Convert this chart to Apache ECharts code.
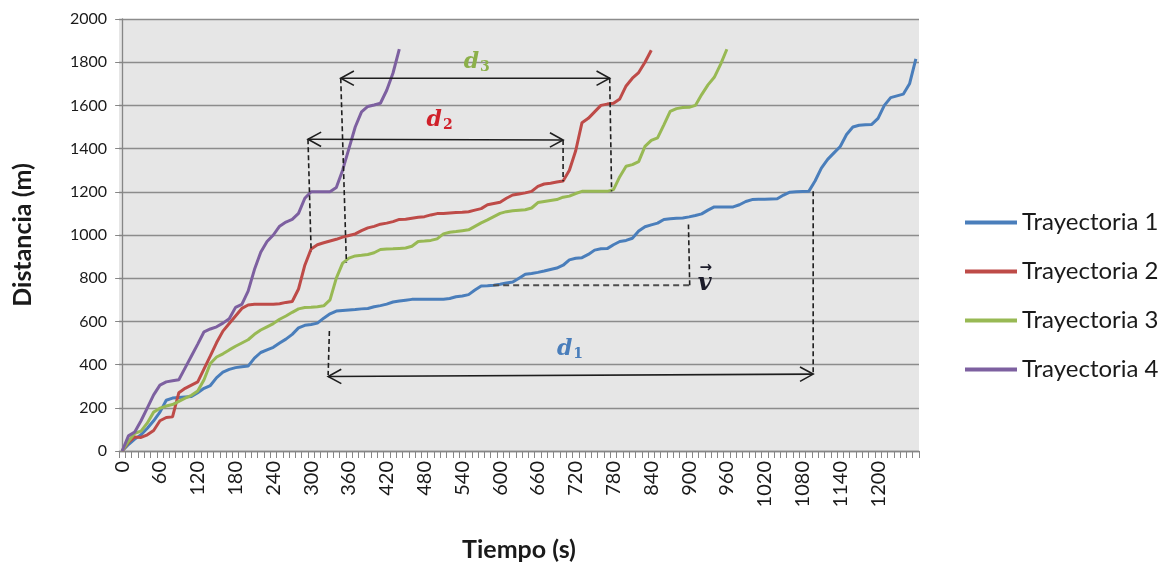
<!DOCTYPE html>
<html>
<head>
<meta charset="utf-8">
<script src="https://cdn.jsdelivr.net/npm/echarts@6/dist/echarts.min.js"></script>
<style>
  html, body { margin: 0; padding: 0; background: #ffffff; }
  #chart { width: 1171px; height: 567px; }
</style>
</head>
<body>
<div id="chart"></div>
<script>
// Time samples every 10 s (0 … 1260 s)
const tiempos = [];
for (let t = 0; t <= 1260; t += 10) tiempos.push(String(t));

// Distance (m) sampled every 10 s for each trajectory
const trayectoria1 = [
  0, 30, 55, 75, 105, 140, 180, 235, 245, 248, 250, 252, 270, 290, 303, 340, 365, 378, 386, 390,
  393, 430, 456, 468, 480, 500, 518, 540, 570, 582, 586, 592, 615, 635, 648, 651, 653, 655, 658, 660,
  668, 673, 680, 690, 694, 698, 702, 702, 702, 702, 702, 703, 706, 714, 718, 724, 745, 764, 765, 767,
  772, 778, 782, 800, 818, 822, 827, 833, 840, 847, 860, 885, 892, 895, 910, 930, 936, 937, 955, 970,
  975, 985, 1018, 1038, 1047, 1055, 1072, 1075, 1077, 1079, 1084, 1090, 1098, 1115, 1130, 1130, 1130, 1130, 1140, 1155,
  1164, 1165, 1166, 1167, 1168, 1185, 1198, 1200, 1201, 1202, 1250, 1310, 1350, 1380, 1410, 1465, 1500, 1508, 1510, 1512,
  1540, 1600, 1636, 1644, 1652, 1700, 1815
];
const trayectoria2 = [
  0, 40, 65, 63, 75, 95, 140, 155, 158, 270, 290, 305, 320, 380, 440, 502, 555, 590, 625, 660,
  676, 679, 679, 679, 679, 682, 688, 692, 750, 860, 935, 955, 964, 972, 980, 990, 998, 1005, 1020, 1033,
  1040, 1050, 1055, 1062, 1072, 1073, 1078, 1082, 1085, 1093, 1099, 1100, 1102, 1104, 1105, 1108, 1115, 1122, 1140, 1146,
  1152, 1170, 1185, 1190, 1195, 1202, 1225, 1236, 1240, 1245, 1250, 1300, 1390, 1520, 1540, 1570, 1600, 1606, 1610, 1630,
  1690, 1726, 1752, 1800, 1855
];
const trayectoria3 = [
  0, 45, 82, 92, 130, 180, 198, 208, 215, 230, 245, 258, 278, 330, 405, 435, 450, 468, 485, 500,
  515, 540, 560, 575, 590, 610, 625, 642, 658, 664, 665, 668, 672, 700, 800, 870, 893, 903, 906, 910,
  918, 933, 935, 936, 938, 940, 948, 970, 972, 975, 982, 1005, 1013, 1016, 1020, 1024, 1040, 1056, 1070, 1085,
  1100, 1108, 1112, 1115, 1117, 1125, 1150, 1155, 1160, 1164, 1175, 1180, 1192, 1202, 1202, 1202, 1202, 1202, 1210, 1270,
  1318, 1326, 1340, 1410, 1438, 1450, 1510, 1572, 1585, 1590, 1591, 1600, 1650, 1695, 1730, 1790, 1860
];
const trayectoria4 = [
  0, 70, 88, 140, 200, 260, 305, 320, 325, 330, 385, 440, 495, 552, 565, 575, 592, 612, 665, 679,
  740, 840, 920, 970, 1000, 1041, 1060, 1072, 1100, 1170, 1200, 1200, 1200, 1200, 1220, 1300, 1400, 1500, 1570, 1595,
  1602, 1610, 1670, 1750, 1860
];

const nombres = ['Trayectoria 1', 'Trayectoria 2', 'Trayectoria 3', 'Trayectoria 4'];
const colores = ['#4a7ebb', '#be4b48', '#98b954', '#7d60a0'];
const series = [trayectoria1, trayectoria2, trayectoria3, trayectoria4];

// Distance arrows [t1, d1, t2, d2] (double-headed)
const flechas = [
  [327, 345, 1097, 356],
  [295, 1443, 700, 1440],
  [347, 1726, 774, 1726]
];
// Vertical dashed guides [t1, d1, t2, d2]
const guias = [
  [329, 556, 327, 352],
  [1097, 1202, 1097, 356],
  [295, 1443, 300, 924],
  [700, 1440, 700, 1249],
  [347, 1726, 356, 872],
  [774, 1726, 777, 1202],
  [901, 767, 899, 1049]
];
// Horizontal dashed guide for the velocity vector
const guiaVelocidad = [[589, 767, 901, 767]];
// Math labels [t, d, subscript, colour]
const etiquetas = [
  [711, 471, '1', '#4a7ebb'],
  [504, 1533, '2', '#d0202a'],
  [563, 1801, '3', '#8cb04a']
];
const etiquetaV = [[925, 785]];

const chart = echarts.init(document.getElementById('chart'), null, { renderer: 'canvas' });

function arrowItem(params, api) {
  const p1 = api.coord([api.value(0), api.value(1)]);
  const p2 = api.coord([api.value(2), api.value(3)]);
  const ang = Math.atan2(p2[1] - p1[1], p2[0] - p1[0]);
  const L = 15, W = 0.5;
  const head = (p, dir) => {
    const a = ang + (dir > 0 ? 0 : Math.PI);
    return [
      [p[0] - L * Math.cos(a - W), p[1] - L * Math.sin(a - W)],
      p,
      [p[0] - L * Math.cos(a + W), p[1] - L * Math.sin(a + W)]
    ];
  };
  const st = { stroke: '#1e1e1e', lineWidth: 1.6, fill: null };
  return {
    type: 'group',
    children: [
      { type: 'line', shape: { x1: p1[0], y1: p1[1], x2: p2[0], y2: p2[1] }, style: st },
      { type: 'polyline', shape: { points: head(p2, 1) }, style: st },
      { type: 'polyline', shape: { points: head(p1, -1) }, style: st }
    ]
  };
}

function dashedItem(color, width, dash) {
  return function (params, api) {
    const p1 = api.coord([api.value(0), api.value(1)]);
    const p2 = api.coord([api.value(2), api.value(3)]);
    return {
      type: 'line',
      shape: { x1: p1[0], y1: p1[1], x2: p2[0], y2: p2[1] },
      style: { stroke: color, lineWidth: width, lineDash: dash }
    };
  };
}

function labelItem(params, api) {
  const p = api.coord([api.value(0), api.value(1)]);
  const d = etiquetas[params.dataIndex];
  return {
    type: 'text',
    x: p[0], y: p[1],
    style: {
      text: '{d|d}{s|' + d[2] + '}',
      align: 'center', verticalAlign: 'middle',
      rich: {
        d: { fontFamily: 'DejaVu Serif', fontStyle: 'italic', fontWeight: 'bold', fontSize: 22, fill: d[3], color: d[3] },
        s: { fontFamily: 'DejaVu Serif', fontWeight: 'bold', fontSize: 14, fill: d[3], color: d[3], padding: [10, 0, 0, 1] }
      }
    }
  };
}

function velItem(params, api) {
  const p = api.coord([api.value(0), api.value(1)]);
  return {
    type: 'group',
    children: [
      { type: 'text', x: p[0], y: p[1] + 2, style: { text: 'v', align: 'center', verticalAlign: 'middle',
        font: 'italic bold 24px "DejaVu Serif"', fill: '#1c1c2a' } },
      { type: 'text', x: p[0] + 1, y: p[1] - 13, style: { text: '\u2192', align: 'center', verticalAlign: 'middle',
        font: 'bold 15px "DejaVu Sans"', fill: '#1c1c2a' } }
    ]
  };
}

const lineSeries = series.map((vals, i) => ({
  name: nombres[i],
  type: 'line',
  xAxisIndex: 0,
  data: vals,
  symbol: 'none',
  lineStyle: { width: 3, color: colores[i] },
  itemStyle: { color: colores[i] },
  z: 3
}));

const overlay = [
  { type: 'custom', xAxisIndex: 1, renderItem: dashedItem('#1e1e1e', 1.6, [5, 3]), data: guias, z: 5, silent: true,
    encode: { x: [0, 2], y: [1, 3] } },
  { type: 'custom', xAxisIndex: 1, renderItem: dashedItem('#4d4d4d', 2, [6, 4]), data: guiaVelocidad, z: 5, silent: true,
    encode: { x: [0, 2], y: [1, 3] } },
  { type: 'custom', xAxisIndex: 1, renderItem: arrowItem, data: flechas, z: 6, silent: true,
    encode: { x: [0, 2], y: [1, 3] } },
  { type: 'custom', xAxisIndex: 1, renderItem: labelItem, data: etiquetas.map(e => [e[0], e[1]]), z: 7, silent: true },
  { type: 'custom', xAxisIndex: 1, renderItem: velItem, data: etiquetaV, z: 7, silent: true }
];

chart.setOption({
  animation: false,
  backgroundColor: '#ffffff',
  textStyle: { fontFamily: 'Lato' },
  grid: {
    left: 119, right: 252, top: 19, bottom: 115,
    show: true, backgroundColor: '#e6e6e6', borderWidth: 0
  },
  legend: {
    orient: 'vertical',
    left: 960, top: 205,
    icon: 'rect',
    itemWidth: 52, itemHeight: 4,
    itemGap: 24,
    textStyle: { fontFamily: 'Lato', fontSize: 24, lineHeight: 25, color: '#1a1a1a' },
    data: nombres
  },
  xAxis: [
    {
      type: 'category',
      data: tiempos,
      boundaryGap: true,
      name: 'Tiempo (s)',
      nameLocation: 'middle',
      nameGap: 86,
      nameTextStyle: { fontFamily: 'Lato', fontWeight: 'bold', fontSize: 25, color: '#1a1a1a' },
      axisLine: { show: true, lineStyle: { color: '#868686', width: 1.3 } },
      axisTick: { show: true, interval: 0, length: 7, lineStyle: { color: '#868686' } },
      axisLabel: { interval: 5, rotate: 90, margin: 10, fontSize: 20, color: '#1a1a1a', showMaxLabel: false },
      splitLine: { show: false }
    },
    {
      type: 'value', min: -5, max: 1265, show: false
    }
  ],
  yAxis: {
    type: 'value',
    min: 0, max: 2000, interval: 200,
    name: 'Distancia (m)',
    nameLocation: 'middle',
    nameGap: 84,
    nameTextStyle: { fontFamily: 'Lato', fontWeight: 'bold', fontSize: 25, color: '#1a1a1a' },
    axisLine: { show: true, lineStyle: { color: '#868686', width: 1.3 } },
    axisTick: { show: true, length: 7, lineStyle: { color: '#868686' } },
    axisLabel: { fontSize: 16, margin: 12, color: '#1a1a1a', formatter: v => String(v) },
    splitLine: { show: true, lineStyle: { color: '#8c8c8c', width: 1.3 } }
  },
  series: lineSeries.concat(overlay)
});
</script>
</body>
</html>
